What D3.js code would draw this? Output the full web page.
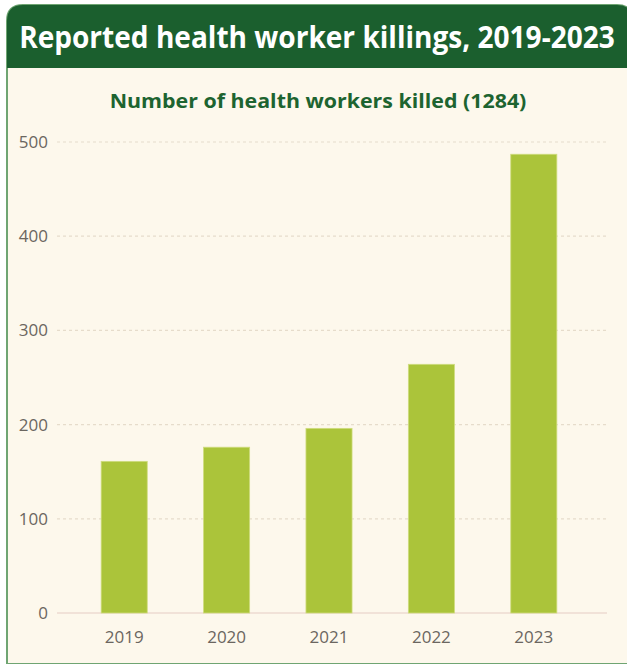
<!DOCTYPE html>
<html>
<head>
<meta charset="utf-8">
<script src="https://cdn.jsdelivr.net/npm/d3@7"></script>
<style>
  html, body { margin: 0; padding: 0; background: #fff; }
  svg { display: block; }
</style>
</head>
<body>
<div id="chart"></div>
<script>
// chart data
const years = ["2019", "2020", "2021", "2022", "2023"];
const killed = [161, 176, 196, 264, 487];
const yTicks = [0, 100, 200, 300, 400, 500];

const title = "Reported health worker killings, 2019-2023";
const subtitle = "Number of health workers killed (1284)";

const width = 627, height = 664;

const svg = d3.select("#chart").append("svg")
    .attr("width", width)
    .attr("height", height);

// card with rounded top corners
const cardX = 7, cardY = 5, cardR = 16, headerH = 63;
const cardPath = `M${cardX},${height} L${cardX},${cardY + cardR} Q${cardX},${cardY} ${cardX + cardR},${cardY}
  L${width - cardR + 6},${cardY} Q${width + 6},${cardY} ${width + 6},${cardY + cardR} L${width + 6},${height} Z`;

svg.append("path")
    .attr("d", cardPath)
    .attr("fill", "#fdf8ec")
    .attr("stroke", "#6fa572")
    .attr("stroke-width", 2);

svg.append("clipPath").attr("id", "hdr")
    .append("rect").attr("x", 0).attr("y", 0).attr("width", width).attr("height", cardY + headerH);

svg.append("path")
    .attr("d", cardPath)
    .attr("fill", "#1b5f2e")
    .attr("clip-path", "url(#hdr)");

// squeeze a text horizontally to a given width (the original uses a condensed face)
function fitText(cx, cy, str, size, color, targetW) {
    const g = svg.append("g");
    const t = g.append("text")
        .attr("text-anchor", "middle")
        .style("font-family", "'Open Sans', sans-serif")
        .style("font-weight", 700)
        .style("font-size", size + "px")
        .style("fill", color)
        .text(str);
    const w = t.node().getComputedTextLength();
    g.attr("transform", `translate(${cx},${cy}) scale(${targetW / w},1)`);
}

fitText(317, 48, title, 30, "#ffffff", 596);
fitText(318, 108, subtitle, 20, "#1d6430", 417);

// scales
const x = d3.scaleBand()
    .domain(years)
    .range([73, 585])
    .paddingInner(0.55)
    .paddingOuter(0.275);

const y = d3.scaleLinear()
    .domain([0, 500])
    .range([613, 142]);

const gridL = 57, gridR = 607;

// dotted gridlines
svg.append("g")
    .selectAll("line")
    .data(yTicks.filter(d => d > 0))
    .enter().append("line")
    .attr("x1", gridL).attr("x2", gridR)
    .attr("y1", d => y(d)).attr("y2", d => y(d))
    .attr("stroke", "#e6dccb")
    .attr("stroke-width", 1.2)
    .attr("stroke-dasharray", "3,3");

// baseline
svg.append("line")
    .attr("x1", gridL).attr("x2", gridR)
    .attr("y1", y(0)).attr("y2", y(0))
    .attr("stroke", "#f1e2d8")
    .attr("stroke-width", 2);

// y axis labels
const yAxis = d3.axisLeft(y).tickValues(yTicks).tickSize(0).tickPadding(0);
const yg = svg.append("g")
    .attr("transform", "translate(48,0)")
    .call(yAxis);
yg.select(".domain").remove();
yg.selectAll("text")
    .style("font-family", "'Open Sans', sans-serif")
    .style("font-size", "17px")
    .style("fill", "#6b6660");

// bars
svg.append("g")
    .selectAll("rect")
    .data(killed)
    .enter().append("rect")
    .attr("x", (d, i) => x(years[i]))
    .attr("y", d => y(d))
    .attr("width", x.bandwidth())
    .attr("height", d => y(0) - y(d))
    .attr("fill", "#abc43a")
    .attr("stroke", "#cfdc7e")
    .attr("stroke-width", 0.8);

// x axis labels
const xAxis = d3.axisBottom(x).tickSize(0).tickPadding(0);
const xg = svg.append("g")
    .attr("transform", "translate(0,631)")
    .call(xAxis);
xg.select(".domain").remove();
xg.selectAll("text")
    .style("font-family", "'Open Sans', sans-serif")
    .style("font-size", "17px")
    .style("fill", "#6b6660");
</script>
</body>
</html>
